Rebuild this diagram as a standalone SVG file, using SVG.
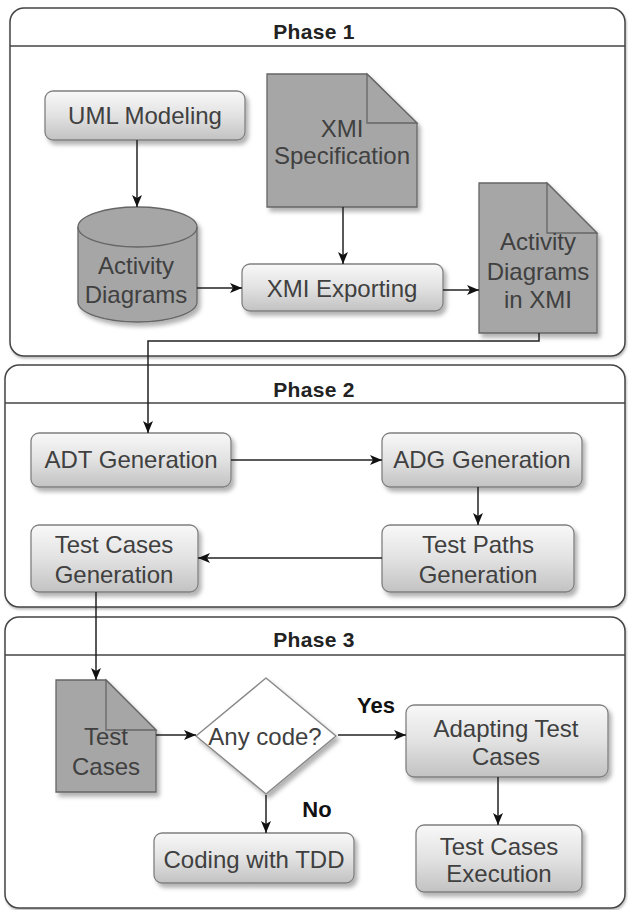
<svg xmlns="http://www.w3.org/2000/svg" width="628" height="910" viewBox="0 0 628 910">
  <defs>
    <linearGradient id="procFill" x1="0" y1="0" x2="0" y2="1">
      <stop offset="0" stop-color="#f8f8f8"/>
      <stop offset="0.5" stop-color="#e2e2e2"/>
      <stop offset="1" stop-color="#c2c2c2"/>
    </linearGradient>
    <filter id="shadow" x="-10%" y="-10%" width="125%" height="130%">
      <feDropShadow dx="3" dy="4" stdDeviation="2" flood-color="#000" flood-opacity="0.3"/>
    </filter>
    <filter id="laneShadow" x="-5%" y="-5%" width="110%" height="110%">
      <feDropShadow dx="1" dy="2" stdDeviation="1" flood-color="#000" flood-opacity="0.25"/>
    </filter>
    <marker id="arrow" viewBox="0 0 12 10" refX="12" refY="5" markerWidth="12" markerHeight="10" markerUnits="userSpaceOnUse" orient="auto">
      <path d="M0,0 L12,5 L0,10 L3,5 Z" fill="#111"/>
    </marker>
  </defs>
  <style>
    .lane { fill: #fff; stroke: #444; stroke-width: 1.5; }
    .laneHead { stroke: #444; stroke-width: 1.5; fill: none; }
    .title { font-family: "Liberation Sans", Arial, sans-serif; font-weight: bold; font-size: 21px; letter-spacing: 0.3px; fill: #222; text-anchor: middle; }
    .proc { fill: url(#procFill); stroke: #808080; stroke-width: 1.3; filter: url(#shadow); }
    .doc { fill: #a6a6a6; stroke: #666; stroke-width: 1.3; filter: url(#shadow); }
    .fold { fill: #a6a6a6; stroke: #666; stroke-width: 1.3; }
    .decision { fill: #fff; stroke: #8a8a8a; stroke-width: 1.5; stroke-linejoin: round; filter: url(#shadow); }
    .label { font-family: "Liberation Sans", Arial, sans-serif; font-size: 24px; fill: #404040; text-anchor: middle; }
    .edgeLabel { font-family: "Liberation Sans", Arial, sans-serif; font-weight: bold; font-size: 22px; fill: #111; text-anchor: middle; }
    .conn { fill: none; stroke: #222; stroke-width: 1.5; marker-end: url(#arrow); }
  </style>

  <!-- Swimlane containers -->
  <g id="phase1">
    <rect class="lane" x="10" y="8" width="615" height="348" rx="14" filter="url(#laneShadow)"/>
    <line class="laneHead" x1="10" y1="46" x2="625" y2="46"/>
    <text class="title" x="314" y="39">Phase 1</text>
  </g>
  <g id="phase2">
    <rect class="lane" x="5" y="365" width="620" height="242" rx="14" filter="url(#laneShadow)"/>
    <line class="laneHead" x1="5" y1="403" x2="625" y2="403"/>
    <text class="title" x="314" y="397">Phase 2</text>
  </g>
  <g id="phase3">
    <rect class="lane" x="5" y="617" width="620" height="291" rx="14" filter="url(#laneShadow)"/>
    <line class="laneHead" x1="5" y1="655" x2="625" y2="655"/>
    <text class="title" x="314" y="647">Phase 3</text>
  </g>

  <!-- Phase 1 nodes -->
  <g id="uml-modeling">
    <rect class="proc" x="45" y="91" width="200" height="49" rx="8"/>
    <text class="label" x="145" y="124">UML Modeling</text>
  </g>
  <g id="xmi-specification">
    <path class="doc" d="M267,74 L367,74 L417,123 L417,207 L267,207 Z"/>
    <path class="fold" d="M367,74 L367,123 L417,123 Z"/>
    <text class="label" x="342" y="137">XMI</text>
    <text class="label" x="342" y="164">Specification</text>
  </g>
  <g id="activity-diagrams">
    <path class="doc" d="M78,227 A59.5,20 0 0 1 197,227 L197,302 A59.5,20 0 0 1 78,302 Z"/>
    <path class="fold" style="fill:none" d="M78,227 A59.5,20 0 0 0 197,227"/>
    <text class="label" x="136" y="274">Activity</text>
    <text class="label" x="136" y="303">Diagrams</text>
  </g>
  <g id="xmi-exporting">
    <rect class="proc" x="242" y="264" width="201" height="47" rx="8"/>
    <text class="label" x="342" y="297">XMI Exporting</text>
  </g>
  <g id="activity-diagrams-xmi">
    <path class="doc" d="M479,183 L547,183 L597,233 L597,333 L479,333 Z"/>
    <path class="fold" d="M547,183 L547,233 L597,233 Z"/>
    <text class="label" x="538" y="250">Activity</text>
    <text class="label" x="538" y="280">Diagrams</text>
    <text class="label" x="538" y="308">in XMI</text>
  </g>

  <!-- Phase 2 nodes -->
  <g id="adt-generation">
    <rect class="proc" x="31" y="433" width="200" height="54" rx="8"/>
    <text class="label" x="131" y="468">ADT Generation</text>
  </g>
  <g id="adg-generation">
    <rect class="proc" x="382" y="433" width="200" height="54" rx="8"/>
    <text class="label" x="482" y="468">ADG Generation</text>
  </g>
  <g id="test-paths-generation">
    <rect class="proc" x="382" y="525" width="192" height="67" rx="8"/>
    <text class="label" x="478" y="553">Test Paths</text>
    <text class="label" x="478" y="583">Generation</text>
  </g>
  <g id="test-cases-generation">
    <rect class="proc" x="31" y="525" width="167" height="67" rx="8"/>
    <text class="label" x="114" y="553">Test Cases</text>
    <text class="label" x="114" y="583">Generation</text>
  </g>

  <!-- Phase 3 nodes -->
  <g id="test-cases">
    <path class="doc" d="M56,680 L106,680 L156,730 L156,792 L56,792 Z"/>
    <path class="fold" d="M106,680 L106,730 L156,730 Z"/>
    <text class="label" x="106" y="745">Test</text>
    <text class="label" x="106" y="775">Cases</text>
  </g>
  <g id="any-code">
    <path class="decision" d="M266,678 L336,736 L266,794 L196,736 Z"/>
    <text class="label" x="265" y="745">Any code?</text>
  </g>
  <g id="adapting-test-cases">
    <rect class="proc" x="406" y="705" width="202" height="72" rx="8"/>
    <text class="label" x="506" y="737">Adapting Test</text>
    <text class="label" x="506" y="765">Cases</text>
  </g>
  <g id="coding-with-tdd">
    <rect class="proc" x="154" y="833" width="200" height="50" rx="8"/>
    <text class="label" x="254" y="868">Coding with TDD</text>
  </g>
  <g id="test-cases-execution">
    <rect class="proc" x="416" y="825" width="166" height="67" rx="8"/>
    <text class="label" x="499" y="855">Test Cases</text>
    <text class="label" x="499" y="882">Execution</text>
  </g>

  <!-- Connectors -->
  <g id="connectors">
    <path class="conn" d="M137,140 V207"/>
    <path class="conn" d="M197,288 H242"/>
    <path class="conn" d="M343,207 V264"/>
    <path class="conn" d="M443,290 H479"/>
    <path class="conn" d="M539,333 V341 H148 V433"/>
    <path class="conn" d="M231,460 H382"/>
    <path class="conn" d="M478,487 V525"/>
    <path class="conn" d="M382,558 H198"/>
    <path class="conn" d="M96,592 V680"/>
    <path class="conn" d="M156,735 H196"/>
    <path class="conn" d="M338,735 H406"/>
    <path class="conn" d="M266,795 V833"/>
    <path class="conn" d="M498,777 V825"/>
    <text class="edgeLabel" x="376" y="713">Yes</text>
    <text class="edgeLabel" x="317" y="817">No</text>
  </g>
</svg>
